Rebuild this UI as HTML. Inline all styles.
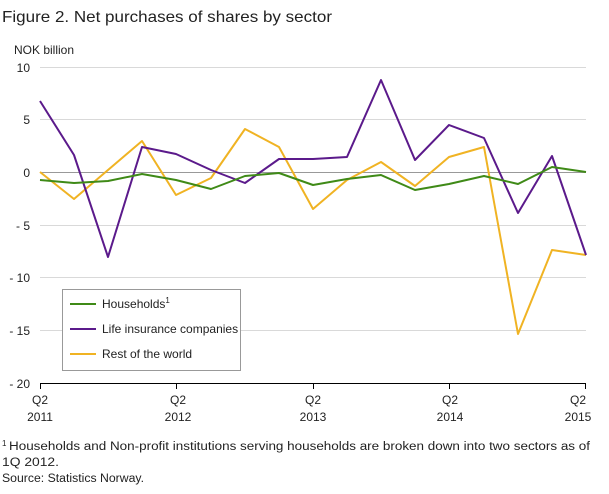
<!DOCTYPE html>
<html><head><meta charset="utf-8"><style>
body{margin:0;background:#fff;width:609px;height:489px;overflow:hidden;font-family:"Liberation Sans",sans-serif;}
</style></head><body>
<svg width="609" height="489" xmlns="http://www.w3.org/2000/svg" font-family="Liberation Sans, sans-serif">
<text x="2" y="22" font-size="16" fill="#222" textLength="330" lengthAdjust="spacingAndGlyphs">Figure 2. Net purchases of shares by sector</text>
<text x="14" y="54" font-size="12" fill="#222">NOK billion</text>
<g stroke="#d9d9d9" stroke-width="1">
<line x1="40" x2="586" y1="67.5" y2="67.5"/>
<line x1="40" x2="586" y1="119.5" y2="119.5"/>
<line x1="40" x2="586" y1="225.5" y2="225.5"/>
<line x1="40" x2="586" y1="277.5" y2="277.5"/>
<line x1="40" x2="586" y1="330.5" y2="330.5"/>
</g>
<line x1="40" x2="586" y1="172.5" y2="172.5" stroke="#999"/>
<line x1="40" x2="586" y1="383.5" y2="383.5" stroke="#000"/>
<g font-size="12" fill="#222" text-anchor="end">
<text x="30" y="72">10</text><text x="30" y="124">5</text><text x="30" y="177">0</text>
<text x="30" y="230">- 5</text><text x="30" y="282">- 10</text><text x="30" y="335">- 15</text><text x="30" y="388">- 20</text>
</g>
<g stroke="#000"><line x1="40.5" x2="40.5" y1="383" y2="389"/><line x1="176.5" x2="176.5" y1="383" y2="389"/><line x1="313.5" x2="313.5" y1="383" y2="389"/><line x1="449.5" x2="449.5" y1="383" y2="389"/><line x1="585.5" x2="585.5" y1="383" y2="389"/></g>
<g font-size="12" fill="#222" text-anchor="middle">
<text x="40" y="404">Q2</text><text x="40" y="421">2011</text>
<text x="178" y="404">Q2</text><text x="178" y="421">2012</text>
<text x="313" y="404">Q2</text><text x="313" y="421">2013</text>
<text x="450" y="404">Q2</text><text x="450" y="421">2014</text>
<text x="578" y="404">Q2</text><text x="578" y="421">2015</text>
</g>
<polyline fill="none" stroke="#f0b323" stroke-width="2" stroke-linejoin="round" points="40,172 74,199 108,170 142,141 176,195 211,178 245,129 279,147 313,209 347,180 381,162 415,186 449,157 484,147 518,334 552,250 586,255"/>
<polyline fill="none" stroke="#5b1a8b" stroke-width="2" stroke-linejoin="round" points="40,101 74,155 108,257 142,147 176,154 211,170 245,183 279,159 313,159 347,157 381,80 415,160 449,125 484,138 518,213 552,156 586,255"/>
<polyline fill="none" stroke="#3f8a17" stroke-width="2" stroke-linejoin="round" points="40,180 74,183 108,181 142,174 176,180 211,189 245,176 279,173 313,185 347,179 381,175 415,190 449,184 484,176 518,184 552,167 586,172"/>
<rect x="62.5" y="289.5" width="178" height="81" fill="#fff" stroke="#999"/>
<line x1="70" x2="96" y1="304" y2="304" stroke="#3f8a17" stroke-width="2"/>
<line x1="70" x2="96" y1="329" y2="329" stroke="#5b1a8b" stroke-width="2"/>
<line x1="70" x2="96" y1="354" y2="354" stroke="#f0b323" stroke-width="2"/>
<g font-size="12" fill="#222">
<text x="102" y="308">Households<tspan font-size="8" dy="-5">1</tspan></text>
<text x="102" y="333">Life insurance companies</text>
<text x="102" y="358">Rest of the world</text>
</g>
<g font-size="11.5" fill="#222">
<text x="2" y="446" font-size="8">1</text>
<text x="9" y="450" textLength="581" lengthAdjust="spacingAndGlyphs">Households and Non-profit institutions serving households are broken down into two sectors as of</text>
<text x="2" y="466" textLength="57" lengthAdjust="spacingAndGlyphs">1Q 2012.</text>
<text x="2" y="482" textLength="142" lengthAdjust="spacingAndGlyphs">Source: Statistics Norway.</text>
</g>
</svg>
</body></html>
